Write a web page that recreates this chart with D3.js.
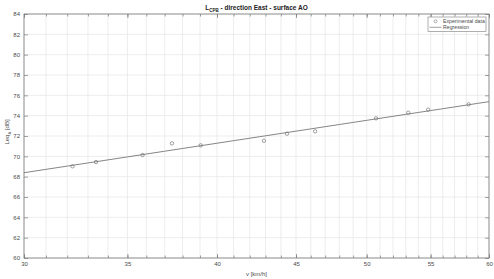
<!DOCTYPE html>
<html>
<head>
<meta charset="utf-8">
<script src="https://cdn.jsdelivr.net/npm/d3@7"></script>
<style>
  body { margin: 0; background: #fff; }
  text { font-family: "Liberation Sans", Arial, sans-serif; }
</style>
</head>
<body>
<script>
// measured points (speed in km/h, level in dB)
var speeds = [32.25, 33.4, 35.8, 37.4, 39.04, 42.9, 44.4, 46.3, 50.7, 53.2, 54.8, 58.2];
var levels = [69.02, 69.44, 70.13, 71.28, 71.08, 71.53, 72.23, 72.46, 73.74, 74.29, 74.59, 75.11];

var xMajor = [30, 35, 40, 45, 50, 55, 60];
var yMajor = [60, 62, 64, 66, 68, 70, 72, 74, 76, 78, 80, 82, 84];
var legendLabels = ["Experimental data", "Regression"];

var W = 494, H = 279;
var margin = { top: 14, right: 5, bottom: 21, left: 24 },
    width = W - margin.left - margin.right,
    height = H - margin.top - margin.bottom;

var svg = d3.select("body").append("svg")
    .attr("width", W)
    .attr("height", H);

var g = svg.append("g")
    .attr("transform", "translate(" + margin.left + "," + margin.top + ")");

var x = d3.scaleLog().domain([30, 60]).range([0, width]);
var y = d3.scaleLinear().domain([60, 84]).range([height, 0]);

var xMinor = d3.range(30, 61);

// grid
g.append("g").selectAll("line")
    .data(xMinor)
    .enter().append("line")
    .attr("x1", d => x(d)).attr("x2", d => x(d))
    .attr("y1", 0).attr("y2", height)
    .attr("stroke", "#e8e8e8")
    .attr("stroke-width", 0.8);

g.append("g").selectAll("line")
    .data(yMajor)
    .enter().append("line")
    .attr("x1", 0).attr("x2", width)
    .attr("y1", d => y(d)).attr("y2", d => y(d))
    .attr("stroke", "#e8e8e8")
    .attr("stroke-width", 0.8);

// axes (MATLAB style: inward ticks, box on)
var axisColor = "#7a7a7a";
var fmt = d3.format("d");

function styleAxis(sel) {
  sel.select(".domain").remove();
  sel.selectAll("line").attr("stroke", axisColor).attr("stroke-width", 0.7);
  sel.selectAll("text").attr("fill", "#4a4a4a").style("font-size", "6px");
}

g.append("g")
    .attr("transform", "translate(0," + height + ")")
    .call(d3.axisBottom(x).tickValues(xMajor).tickFormat(fmt).tickSize(-4).tickPadding(4))
    .call(styleAxis);

g.append("g")
    .call(d3.axisTop(x).tickValues(xMajor).tickFormat("").tickSize(-4))
    .call(styleAxis);

g.append("g")
    .attr("transform", "translate(0," + height + ")")
    .call(d3.axisBottom(x).tickValues(xMinor).tickFormat("").tickSize(-2.5))
    .call(styleAxis);

g.append("g")
    .call(d3.axisTop(x).tickValues(xMinor).tickFormat("").tickSize(-2.5))
    .call(styleAxis);

g.append("g")
    .call(d3.axisLeft(y).tickValues(yMajor).tickFormat(fmt).tickSize(-4).tickPadding(4))
    .call(styleAxis);

g.append("g")
    .attr("transform", "translate(" + width + ",0)")
    .call(d3.axisRight(y).tickValues(yMajor).tickFormat("").tickSize(-4))
    .call(styleAxis);

g.append("rect")
    .attr("width", width).attr("height", height)
    .attr("fill", "none")
    .attr("stroke", axisColor)
    .attr("stroke-width", 0.8);

// regression: level = a + b * log10(v)
var lx = speeds.map(v => Math.log10(v));
var mx = d3.mean(lx), my = d3.mean(levels);
var sxy = d3.sum(lx, (v, i) => (v - mx) * (levels[i] - my));
var sxx = d3.sum(lx, v => (v - mx) * (v - mx));
var b = sxy / sxx, a = my - b * mx;

var regLine = d3.line()
    .x(d => x(d))
    .y(d => y(a + b * Math.log10(d)));

g.append("path")
    .datum(xMinor)
    .attr("d", regLine)
    .attr("fill", "none")
    .attr("stroke", "#777")
    .attr("stroke-width", 0.9);

g.append("g").selectAll("circle")
    .data(speeds)
    .enter().append("circle")
    .attr("cx", d => x(d))
    .attr("cy", (d, i) => y(levels[i]))
    .attr("r", 1.7)
    .attr("fill", "none")
    .attr("stroke", "#777")
    .attr("stroke-width", 0.7);

// legend
var lg = g.append("g").attr("transform", "translate(" + (width - 61) + ",3)");
lg.append("rect")
    .attr("width", 58).attr("height", 14.5)
    .attr("fill", "#fff")
    .attr("stroke", axisColor)
    .attr("stroke-width", 0.6);
lg.append("circle")
    .attr("cx", 7.5).attr("cy", 4.3).attr("r", 1.5)
    .attr("fill", "none").attr("stroke", "#777").attr("stroke-width", 0.6);
lg.append("line")
    .attr("x1", 1.5).attr("x2", 13.5).attr("y1", 10.3).attr("y2", 10.3)
    .attr("stroke", "#777").attr("stroke-width", 0.7);
lg.selectAll("text.lab")
    .data(legendLabels)
    .enter().append("text")
    .attr("class", "lab")
    .attr("x", 15)
    .attr("y", (d, i) => 6 + i * 6)
    .style("font-size", "5.2px")
    .attr("fill", "#4a4a4a")
    .text(d => d);

// title
var title = svg.append("text")
    .attr("x", margin.left + width / 2)
    .attr("y", 10)
    .attr("text-anchor", "middle")
    .style("font-size", "6.5px")
    .style("font-weight", "bold")
    .attr("fill", "#222");
title.append("tspan").text("L");
title.append("tspan").attr("dy", 1.8).style("font-size", "4.5px").text("CPB");
title.append("tspan").attr("dy", -1.8).text(" - direction East - surface AO");

// axis labels
svg.append("text")
    .attr("x", margin.left + width / 2)
    .attr("y", 276)
    .attr("text-anchor", "middle")
    .style("font-size", "6px")
    .attr("fill", "#4a4a4a")
    .text("v [km/h]");

var yl = svg.append("text")
    .attr("transform", "translate(9," + (margin.top + height / 2 - 4) + ") rotate(-90)")
    .attr("text-anchor", "middle")
    .style("font-size", "6px")
    .attr("fill", "#4a4a4a");
yl.append("tspan").text("Leq");
yl.append("tspan").attr("dy", 1.5).style("font-size", "4.2px").text("A");
yl.append("tspan").attr("dy", -1.5).text(" [dB]");
</script>
</body>
</html>
